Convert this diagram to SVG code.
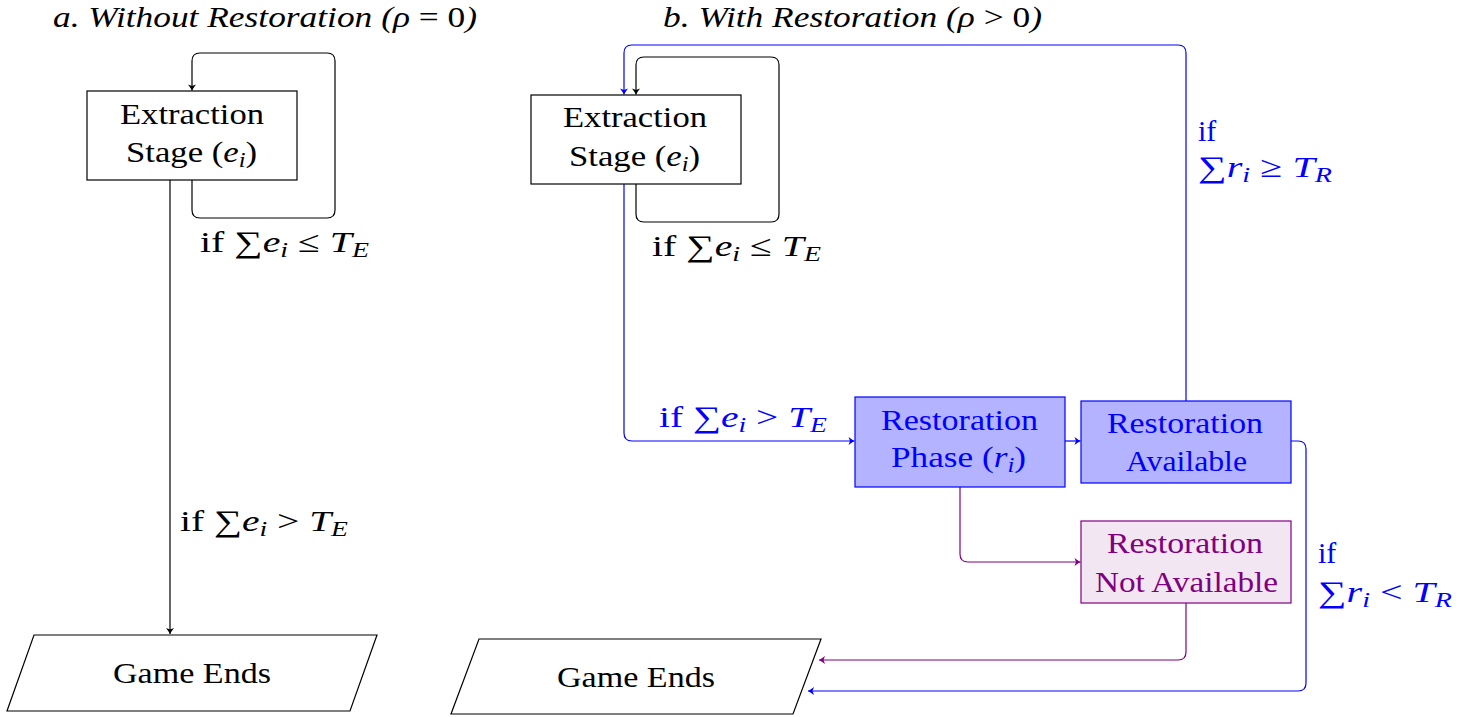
<svg xmlns="http://www.w3.org/2000/svg" width="1471" height="717" viewBox="0 0 1471 717" font-family="'Liberation Serif', 'DejaVu Serif', 'Noto Serif', 'Times New Roman', serif">
<style>
text{font-family:'Liberation Serif','DejaVu Serif','Noto Serif','Times New Roman',serif;font-size:30px;fill:#000}
.it{font-style:italic}
.sub{font-size:21px;font-style:italic}
.blue{fill:#0000ff}
.purp{fill:#800080}
.box{fill:#fff;stroke:#000;stroke-width:1.2}
.bbox{fill:#b3b3ff;stroke:#0000ff;stroke-width:1.2}
.pbox{fill:#f2e6f2;stroke:#800080;stroke-width:1.2}
.c{fill:none;stroke-width:1.2}
.k{stroke:#000;marker-end:url(#ak)}
.b{stroke:#0000ff;marker-end:url(#ab)}
.p{stroke:#800080;marker-end:url(#ap)}
</style>
<defs>
<marker id="ak" markerUnits="userSpaceOnUse" viewBox="-8 -5 10 10" markerWidth="10" markerHeight="10" refX="0" refY="0" orient="auto"><path d="M-6,-4 Q-2,-1 0,0 Q-2,1 -6,4 L-4.5,0 Z" fill="#000"/></marker>
<marker id="ab" markerUnits="userSpaceOnUse" viewBox="-8 -5 10 10" markerWidth="10" markerHeight="10" refX="0" refY="0" orient="auto"><path d="M-6,-4 Q-2,-1 0,0 Q-2,1 -6,4 L-4.5,0 Z" fill="#0000ff"/></marker>
<marker id="ap" markerUnits="userSpaceOnUse" viewBox="-8 -5 10 10" markerWidth="10" markerHeight="10" refX="0" refY="0" orient="auto"><path d="M-6,-4 Q-2,-1 0,0 Q-2,1 -6,4 L-4.5,0 Z" fill="#800080"/></marker>
</defs>

<text x="53" y="27" textLength="424" lengthAdjust="spacingAndGlyphs" class="it">a.  Without Restoration (ρ <tspan font-style="normal">= 0</tspan>)</text>
<text x="663" y="27" textLength="379" lengthAdjust="spacingAndGlyphs" class="it">b.  With Restoration (ρ <tspan font-style="normal">&gt; 0</tspan>)</text>

<g id="connectors">
<path class="c k" d="M192,180 V210 Q192,218 200,218 H327 Q335,218 335,210 V61 Q335,53 327,53 H200 Q192,53 192,61 V90.5"/>
<path class="c k" d="M170,180 V634"/>
<path class="c k" d="M636,184 V214 Q636,222 644,222 H771 Q779,222 779,214 V65 Q779,57 771,57 H644 Q636,57 636,65 V94.5"/>
<path class="c b" d="M624,184 V433 Q624,441 632,441 H854.5"/>
<path class="c b" d="M1186,401 V53 Q1186,45 1178,45 H632 Q624,45 624,53 V94.5"/>
<path class="c b" d="M1065,441 H1080.5"/>
<path class="c p" d="M960,487 V554 Q960,562 968,562 H1080.5"/>
<path class="c p" d="M1186,603 V652 Q1186,660 1178,660 H819"/>
<path class="c b" d="M1291,441 H1298 Q1306,441 1306,449 V683 Q1306,691 1298,691 H808"/>
<text x="200" y="252" textLength="169" lengthAdjust="spacingAndGlyphs">if ∑<tspan class="it">e</tspan><tspan class="sub" dy="5">i</tspan><tspan dy="-5"> ≤ </tspan><tspan class="it">T</tspan><tspan class="sub" dy="5">E</tspan></text>
<text x="180" y="531" textLength="168" lengthAdjust="spacingAndGlyphs">if ∑<tspan class="it">e</tspan><tspan class="sub" dy="5">i</tspan><tspan dy="-5"> &gt; </tspan><tspan class="it">T</tspan><tspan class="sub" dy="5">E</tspan></text>
<text x="652" y="256" textLength="169" lengthAdjust="spacingAndGlyphs">if ∑<tspan class="it">e</tspan><tspan class="sub" dy="5">i</tspan><tspan dy="-5"> ≤ </tspan><tspan class="it">T</tspan><tspan class="sub" dy="5">E</tspan></text>
<text x="659" y="427" textLength="168" lengthAdjust="spacingAndGlyphs" class="blue">if ∑<tspan class="it">e</tspan><tspan class="sub" dy="5">i</tspan><tspan dy="-5"> &gt; </tspan><tspan class="it">T</tspan><tspan class="sub" dy="5">E</tspan></text>
<text x="1198" y="141" class="blue">if</text>
<text x="1198" y="177" textLength="134" lengthAdjust="spacingAndGlyphs" class="blue">∑<tspan class="it">r</tspan><tspan class="sub" dy="5">i</tspan><tspan dy="-5"> ≥ </tspan><tspan class="it">T</tspan><tspan class="sub" dy="5">R</tspan></text>
<text x="1318" y="563" class="blue">if</text>
<text x="1318" y="602" textLength="134" lengthAdjust="spacingAndGlyphs" class="blue">∑<tspan class="it">r</tspan><tspan class="sub" dy="5">i</tspan><tspan dy="-5"> &lt; </tspan><tspan class="it">T</tspan><tspan class="sub" dy="5">R</tspan></text>
</g>

<g id="extraction-a">
<rect class="box" x="87" y="91" width="210" height="89"/>
<text x="120" y="124" textLength="144" lengthAdjust="spacingAndGlyphs">Extraction</text>
<text x="126" y="162" textLength="131" lengthAdjust="spacingAndGlyphs">Stage (<tspan class="it">e</tspan><tspan class="sub" dy="5">i</tspan><tspan dy="-5">)</tspan></text>
</g>

<g id="gameends-a">
<path class="box" d="M34,635 H377 L350,711 H7 Z"/>
<text x="113" y="683" textLength="158" lengthAdjust="spacingAndGlyphs">Game Ends</text>
</g>

<g id="extraction-b">
<rect class="box" x="531" y="95" width="210" height="89"/>
<text x="563" y="127" textLength="144" lengthAdjust="spacingAndGlyphs">Extraction</text>
<text x="569" y="166" textLength="131" lengthAdjust="spacingAndGlyphs">Stage (<tspan class="it">e</tspan><tspan class="sub" dy="5">i</tspan><tspan dy="-5">)</tspan></text>
</g>

<g id="restoration-phase">
<rect class="bbox" x="855" y="397" width="210" height="90"/>
<text x="881" y="430" textLength="157" lengthAdjust="spacingAndGlyphs" class="blue">Restoration</text>
<text x="891" y="467" textLength="135" lengthAdjust="spacingAndGlyphs" class="blue">Phase (<tspan class="it">r</tspan><tspan class="sub" dy="5">i</tspan><tspan dy="-5">)</tspan></text>
</g>

<g id="restoration-available">
<rect class="bbox" x="1081" y="401" width="210" height="82"/>
<text x="1107" y="433" textLength="156" lengthAdjust="spacingAndGlyphs" class="blue">Restoration</text>
<text x="1126" y="471" textLength="121" lengthAdjust="spacingAndGlyphs" class="blue">Available</text>
</g>

<g id="restoration-not-available">
<rect class="pbox" x="1081" y="521" width="210" height="82"/>
<text x="1107" y="553" textLength="156" lengthAdjust="spacingAndGlyphs" class="purp">Restoration</text>
<text x="1095" y="592" textLength="183" lengthAdjust="spacingAndGlyphs" class="purp">Not Available</text>
</g>

<g id="gameends-b">
<path class="box" d="M479,639 H821 L793,714 H451 Z"/>
<text x="557" y="687" textLength="158" lengthAdjust="spacingAndGlyphs">Game Ends</text>
</g>
</svg>
